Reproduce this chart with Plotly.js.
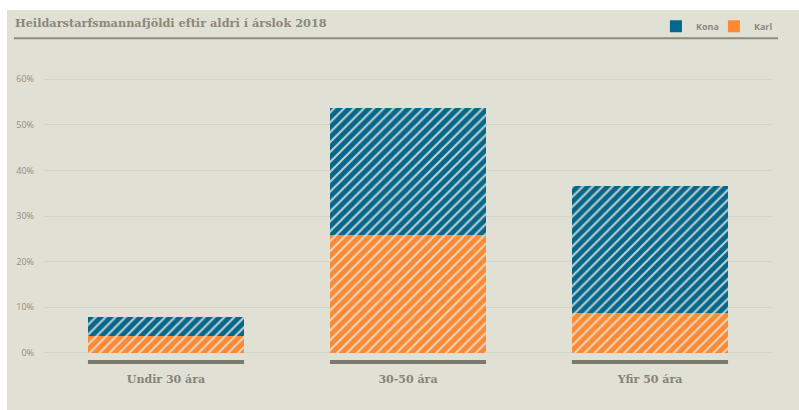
<!DOCTYPE html>
<html>
<head>
<meta charset="utf-8">
<script src="https://cdn.plot.ly/plotly-3.0.1.min.js"></script>
<style>
html,body{margin:0;padding:0;background:#ffffff;}
#chart{position:absolute;left:7px;top:10px;width:792px;height:400px;}
</style>
</head>
<body>
<div id="chart"></div>
<script>
const categories = ["Undir 30 ára", "30-50 ára", "Yfir 50 ára"];
const karl = [3.7, 25.8, 8.7];
const kona = [4.2, 27.9, 27.9];
const yTicks = [0, 10, 20, 30, 40, 50, 60];
const yTickLabels = ["0%", "10%", "20%", "30%", "40%", "50%", "60%"];

const BLUE = "#05678b";
const ORANGE = "#fd8a33";
const BG = "#e1e0d5";
const BARW = 0.645;

const pat = (c) => ({shape: "/", fgcolor: "#e4e4dc", bgcolor: c, size: 7, solidity: 0.28, fgopacity: 0.85});

const traces = [
  {type: "bar", name: "Karl", x: categories, y: karl, width: BARW, showlegend: false,
   marker: {color: ORANGE, pattern: pat(ORANGE), line: {width: 0}}, hoverinfo: "skip"},
  {type: "bar", name: "Kona", x: categories, y: kona, width: BARW, showlegend: false,
   marker: {color: BLUE, pattern: pat(BLUE), line: {width: 0}}, hoverinfo: "skip"},
  {type: "bar", name: "Kona", x: [categories[0]], y: [null], marker: {color: BLUE}, showlegend: true},
  {type: "bar", name: "Karl", x: [categories[0]], y: [null], marker: {color: ORANGE}, showlegend: true}
];

const shapes = categories.map((c, i) => ({
  type: "line", xref: "x", yref: "y", x0: i - BARW / 2, x1: i + BARW / 2, y0: -2, y1: -2,
  line: {color: "#7b796b", width: 4}
}));
shapes.push({type: "line", xref: "paper", yref: "paper", x0: -0.0427, x1: 1.0096, y0: 1.0734, y1: 1.0734,
  line: {color: "#8d8c7a", width: 2}});

const layout = {
  width: 792, height: 400,
  paper_bgcolor: BG, plot_bgcolor: BG,
  margin: {l: 38, r: 28, t: 51, b: 38.5, autoexpand: false},
  barmode: "stack",
  title: {text: "Heildarstarfsmannafjöldi eftir aldri í árslok 2018", xref: "container", yref: "container",
    x: 0.0101, xanchor: "left", y: 0.967, yanchor: "middle",
    font: {family: "DejaVu Serif", size: 11.3, color: "#8a897a", weight: "bold"}},
  xaxis: {type: "category", range: [-0.5, 2.5], showgrid: false, zeroline: false, showline: false,
    ticks: "", tickfont: {family: "DejaVu Serif", size: 11, color: "#85847a", weight: "bold"}, fixedrange: true},
  yaxis: {range: [-4, 64], tickvals: yTicks, ticktext: yTickLabels, showgrid: true, gridcolor: "#d4d3c7",
    gridwidth: 1, zeroline: false, showline: false, ticks: "", ticklabelstandoff: 10,
    tickfont: {family: "Open Sans", size: 9, color: "#8f8e84"}, fixedrange: true},
  legend: {orientation: "h", x: 0.8415, y: 1.112, xanchor: "left", yanchor: "middle", traceorder: "normal",
    bgcolor: "rgba(0,0,0,0)", font: {family: "Open Sans", size: 9, color: "#8a8a80", weight: "bold"},
    itemwidth: 30, entrywidth: 13, entrywidthmode: "pixels"},
  shapes: shapes,
  showlegend: true
};

Plotly.newPlot("chart", traces, layout, {displayModeBar: false, staticPlot: true});
</script>
</body>
</html>
